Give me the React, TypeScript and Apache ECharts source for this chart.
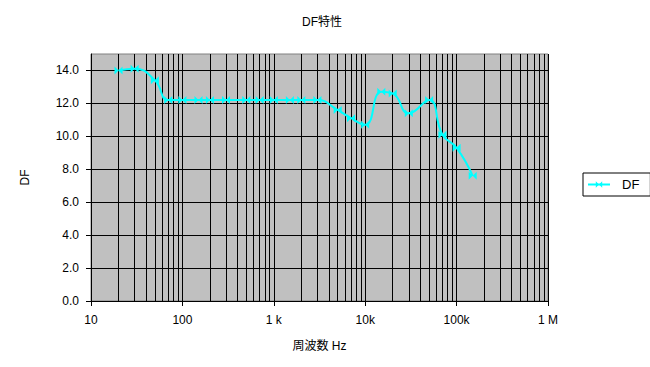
import React, { useEffect, useRef } from "react";
import * as echarts from "echarts";

const frequencies = [20, 30, 50, 70, 100, 150, 200, 300, 500, 700, 1000, 1500, 2000, 3000, 5000, 7000, 10000, 15000, 20000, 30000, 50000, 70000, 100000, 150000];
const dfValues = [14.0, 14.1, 13.4, 12.2, 12.2, 12.2, 12.2, 12.2, 12.2, 12.2, 12.2, 12.2, 12.2, 12.2, 11.6, 11.1, 10.7, 12.7, 12.6, 11.4, 12.2, 10.1, 9.3, 7.6];
const decades = [10, 100, 1000, 10000, 100000];
const minorMultipliers = [2, 3, 4, 5, 6, 7, 8, 9];
const xTickLabels: Record<number, string> = { 10: "10", 100: "100", 1000: "1 k", 10000: "10k", 100000: "100k", 1000000: "1 M" };

const FONT = "'Liberation Sans', 'Noto Sans CJK JP', sans-serif";
const BOWTIE = "path://M0,0L5,5L0,10ZM10,0L5,5L10,10Z";

export default function App() {
  const ref = useRef<HTMLDivElement>(null);
  useEffect(() => {
    if (!ref.current) return;
    const chart = echarts.init(ref.current, undefined, { renderer: "svg" });
    const minorLines: any[] = [];
    decades.forEach((d) => minorMultipliers.forEach((m) => minorLines.push({ xAxis: d * m })));
    chart.setOption({
      animation: false,
      backgroundColor: "#ffffff",
      textStyle: { fontFamily: FONT },
      title: {
        text: "DF特性",
        left: 297,
        top: 11,
        textStyle: { fontSize: 12, fontWeight: "normal", color: "#000", fontFamily: FONT },
      },
      legend: {
        left: 583,
        top: 173,
        orient: "vertical",
        data: ["DF"],
        itemWidth: 22,
        itemHeight: 8,
        padding: [5, 11, 5, 4],
        borderColor: "#000",
        borderWidth: 1,
        backgroundColor: "#fff",
        borderRadius: 0,
        textStyle: { fontSize: 13, color: "#000", fontFamily: FONT, padding: [0, 0, 0, 7] },
      },
      grid: {
        left: 91,
        right: 102,
        top: 54,
        bottom: 66,
        show: true,
        backgroundColor: "#C0C0C0",
        borderColor: "#808080",
        borderWidth: 1,
      },
      xAxis: {
        type: "log",
        logBase: 10,
        min: 10,
        max: 1000000,
        name: "周波数 Hz",
        nameLocation: "middle",
        nameGap: 39,
        nameTextStyle: { fontSize: 12, color: "#000", fontFamily: FONT },
        axisLine: { show: true, lineStyle: { color: "#000", width: 1 } },
        axisTick: { show: true, length: 5, lineStyle: { color: "#000" } },
        axisLabel: {
          color: "#000",
          fontSize: 12,
          margin: 13,
          fontFamily: FONT,
          formatter: (v: number) => xTickLabels[Math.round(v)] ?? "",
        },
        splitLine: { show: true, lineStyle: { color: "#000", width: 1 } },
      },
      yAxis: {
        type: "value",
        min: 0,
        max: 15,
        interval: 2,
        name: "DF",
        nameLocation: "middle",
        nameGap: 60,
        nameTextStyle: { fontSize: 12, color: "#000", fontFamily: FONT },
        axisLine: { show: true, lineStyle: { color: "#000", width: 1 } },
        axisTick: { show: true, length: 5, lineStyle: { color: "#000" } },
        axisLabel: {
          color: "#000",
          fontSize: 12,
          margin: 12,
          fontFamily: FONT,
          showMaxLabel: false,
          formatter: (v: number) => (v > 14 ? "" : v.toFixed(1)),
        },
        splitLine: { show: true, showMaxLine: false, lineStyle: { color: "#000", width: 1 } },
      },
      series: [
        {
          name: "DF",
          type: "line",
          data: frequencies.map((f, i) => [f, dfValues[i]]),
          smooth: 0.5,
          symbol: BOWTIE,
          symbolSize: [8, 8],
          showAllSymbol: true,
          lineStyle: { color: "#00FFFF", width: 2 },
          itemStyle: { color: "#00FFFF", borderWidth: 0 },
          z: 3,
          markLine: {
            silent: true,
            z: 1,
            symbol: ["none", "none"],
            label: { show: false },
            emphasis: { disabled: true },
            lineStyle: { color: "#000", width: 1, type: "solid" },
            data: minorLines,
          },
        },
      ],
    });
    return () => chart.dispose();
  }, []);
  return <div ref={ref} style={{ width: 650, height: 367, position: "absolute", left: 0, top: 0 }} />;
}
